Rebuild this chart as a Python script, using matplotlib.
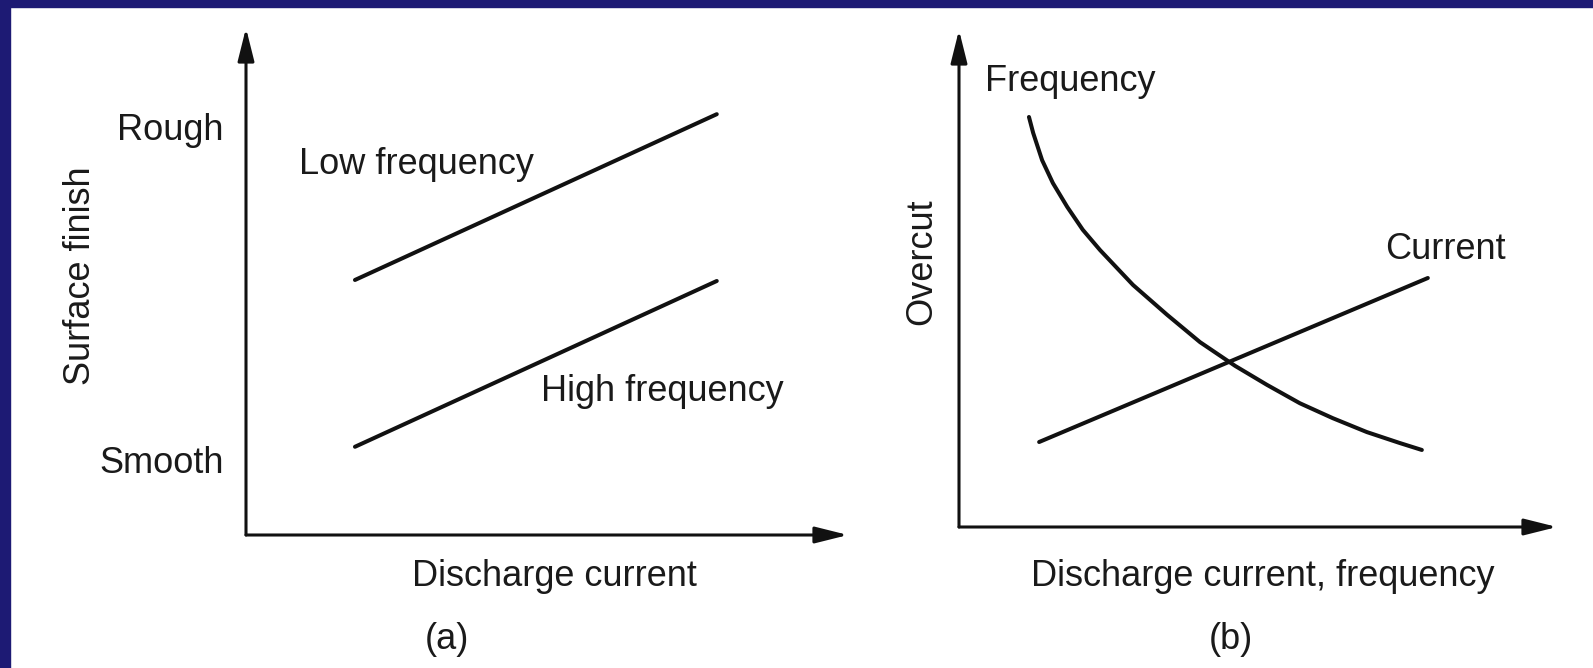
import numpy as np
import matplotlib.pyplot as plt
from matplotlib.patches import Rectangle

plt.rcParams['font.family'] = ['Liberation Sans', 'DejaVu Sans']

# (a) surface finish vs discharge current
low_x = [1.81, 7.82]
low_y = [5.03, 8.30]
high_x = [1.81, 7.82]
high_y = [1.74, 5.01]
finish_ticks = [1.48, 8.05]
finish_labels = ["Smooth", "Rough"]

# (b) overcut vs discharge current / frequency
freq_x = [1.17, 1.24, 1.39, 1.57, 1.81, 2.07, 2.36, 2.91, 3.48, 4.03, 4.62,
          5.15, 5.70, 6.25, 6.82, 7.37, 7.74]
freq_y = [8.25, 7.93, 7.38, 6.92, 6.44, 5.98, 5.57, 4.87, 4.27, 3.72, 3.24,
          2.86, 2.49, 2.19, 1.91, 1.69, 1.55]
cur_x = [1.34, 7.84]
cur_y = [1.71, 5.01]

W, H = 1593, 668
fig = plt.figure(figsize=(W / 100, H / 100), dpi=100, facecolor="white")

navy = "#1d1a74"
fig.patches.append(Rectangle((0, 1 - 7 / H), 1, 7 / H, transform=fig.transFigure, color=navy, zorder=10))
fig.patches.append(Rectangle((0, 0), 10 / W, 1, transform=fig.transFigure, color=navy, zorder=10))

txt = "#1a1a1a"
fs = 26
lw = 2.9

ax1 = fig.add_axes([246 / W, (H - 535) / H, 602 / W, 507 / H])
ax2 = fig.add_axes([959 / W, (H - 527) / H, 598 / W, 497 / H])

for ax in (ax1, ax2):
    ax.set_xlim(0, 10)
    ax.set_ylim(0, 10)
    for s in ax.spines.values():
        s.set_visible(False)
    ax.set_xticks([])
    ax.patch.set_alpha(0)
    arrow = dict(arrowstyle="-|>,head_length=0.8,head_width=0.2", mutation_scale=25,
                 lw=2.2, color="#111111", shrinkA=0, shrinkB=0)
    ax.annotate("", xy=(1, 0), xytext=(0, 0), xycoords="axes fraction", arrowprops=arrow)
    ax.annotate("", xy=(0, 1), xytext=(0, 0), xycoords="axes fraction", arrowprops=arrow)

line_kw = dict(color="#111111", lw=lw, solid_capstyle="round", solid_joinstyle="round")

# panel (a)
ax1.plot(low_x, low_y, **line_kw)
ax1.plot(high_x, high_y, **line_kw)
ax1.set_yticks(finish_ticks)
ax1.set_yticklabels(finish_labels, fontsize=fs, color=txt)
ax1.tick_params(axis="y", length=0, pad=16)
ax1.text(2.84, 7.30, "Low frequency", fontsize=fs, color=txt, ha="center", va="center")
ax1.text(6.91, 2.84, "High frequency", fontsize=fs, color=txt, ha="center", va="center")
ax1.set_xlabel("Discharge current", fontsize=fs, color=txt, va="center")
ax1.xaxis.set_label_coords(0.512, -0.081)
ax1.set_ylabel("Surface finish", fontsize=fs, color=txt, va="center")
ax1.yaxis.set_label_coords(-0.275, 0.511)
ax1.text(0.334, -0.207, "(a)", fontsize=fs, color=txt, ha="center", va="center",
         transform=ax1.transAxes)

# panel (b)
ax2.set_yticks([])
ax2.plot(freq_x, freq_y, **line_kw)
ax2.plot(cur_x, cur_y, **line_kw)
ax2.text(1.86, 8.97, "Frequency", fontsize=fs, color=txt, ha="center", va="center")
ax2.text(8.14, 5.59, "Current", fontsize=fs, color=txt, ha="center", va="center")
ax2.set_xlabel("Discharge current, frequency", fontsize=fs, color=txt, va="center")
ax2.xaxis.set_label_coords(0.508, -0.099)
ax2.set_ylabel("Overcut", fontsize=fs, color=txt, va="center")
ax2.yaxis.set_label_coords(-0.062, 0.533)
ax2.text(0.455, -0.227, "(b)", fontsize=fs, color=txt, ha="center", va="center",
         transform=ax2.transAxes)

plt.savefig("out.png", dpi=100)
